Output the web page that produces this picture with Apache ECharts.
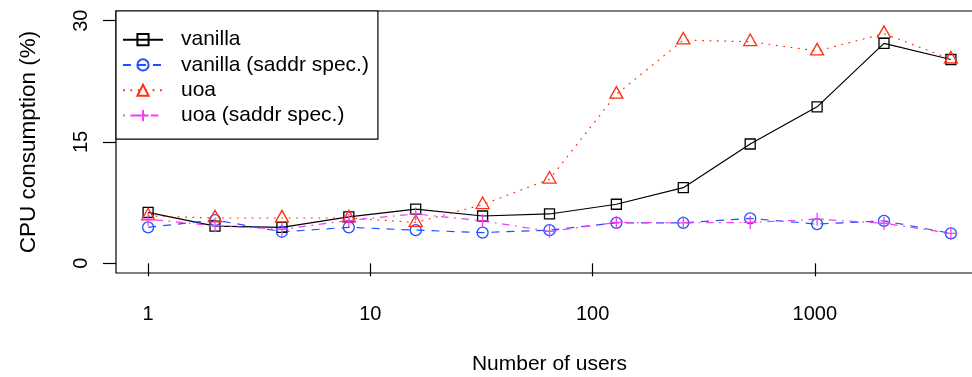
<!DOCTYPE html>
<html>
<head>
<meta charset="utf-8">
<title>CPU consumption vs number of users</title>
<script src="https://cdn.jsdelivr.net/npm/echarts@6.0.0/dist/echarts.min.js"></script>
<style>
  html, body { margin: 0; padding: 0; background: #fff; }
  #chart { width: 972px; height: 377px; }
</style>
</head>
<body>
<div id="chart"></div>
<script>
// Number of concurrent users (powers of two)
const users = [1, 2, 4, 8, 16, 32, 64, 128, 256, 512, 1024, 2048, 4096];

// CPU consumption (%) per configuration
const vanilla      = [6.3, 4.6, 4.45, 5.75, 6.7, 5.85, 6.1, 7.3, 9.35, 14.75, 19.35, 27.2, 25.2];
const vanillaSaddr = [4.45, 5.35, 3.9, 4.45, 4.1, 3.8, 4.1, 5.0, 5.0, 5.55, 4.85, 5.25, 3.7];
const uoa          = [5.85, 5.6, 5.6, 5.6, 5.05, 7.25, 10.4, 20.9, 27.6, 27.4, 26.25, 28.4, 25.25];
const uoaSaddr     = [5.45, 4.65, 4.2, 5.3, 6.1, 5.25, 3.95, 5.05, 5.0, 5.05, 5.45, 4.95, 3.7];

const seriesNames = ['vanilla', 'vanilla (saddr spec.)', 'uoa', 'uoa (saddr spec.)'];

// Axis tick positions
const xTicks = [1, 10, 100, 1000];
const yTicks = [0, 15, 30];
const yLimits = [0, 30];

const FONT = '"Liberation Sans", Arial, Helvetica, sans-serif';

// Axis ranges padded by 4% on each side, as in base R plots
const logLo = Math.log10(users[0]);
const logHi = Math.log10(users[users.length - 1]);
const logPad = 0.04 * (logHi - logLo);
const xMin = Math.pow(10, logLo - logPad);
const xMax = Math.pow(10, logHi + logPad);
const yPad = 0.04 * (yLimits[1] - yLimits[0]);

const pairs = vals => users.map((u, i) => [u, vals[i]]);

const chart = echarts.init(document.getElementById('chart'), null, { renderer: 'canvas' });

chart.setOption({
  animation: false,
  backgroundColor: '#fff',
  textStyle: { fontFamily: FONT },
  grid: {
    left: 116, top: 11, width: 867, height: 262,
    show: true, borderColor: '#000', borderWidth: 1.2,
    backgroundColor: 'transparent',
    containLabel: false,
    outerBoundsMode: 'none'
  },
  legend: {
    orient: 'vertical',
    left: 116, top: 11,
    data: seriesNames,
    itemWidth: 40, itemHeight: 14, itemGap: 0,
    padding: [16, 9, 11, 6],
    borderColor: '#000', borderWidth: 1.2,
    backgroundColor: '#fff',
    selectedMode: false,
    textStyle: {
      fontFamily: FONT, fontSize: 21, color: '#000',
      lineHeight: 25.3, padding: [0, 0, 0, 13]
    }
  },
  xAxis: {
    type: 'log',
    logBase: 10,
    min: xMin, max: xMax,
    name: 'Number of users',
    nameLocation: 'middle',
    nameGap: 81,
    nameTextStyle: { fontFamily: FONT, fontSize: 21, color: '#000' },
    axisLine: { show: false },
    splitLine: { show: false },
    axisTick: {
      show: true, length: 13, customValues: xTicks,
      lineStyle: { color: '#000', width: 1.2 }
    },
    axisLabel: {
      customValues: xTicks,
      margin: 31,
      fontFamily: FONT, fontSize: 20, color: '#000',
      formatter: v => String(Math.round(v))
    }
  },
  yAxis: {
    type: 'value',
    min: yLimits[0] - yPad, max: yLimits[1] + yPad,
    name: 'CPU consumption (%)',
    nameLocation: 'middle',
    nameGap: 76,
    nameTextStyle: { fontFamily: FONT, fontSize: 22.5, color: '#000' },
    axisLine: { show: false },
    splitLine: { show: false },
    axisTick: {
      show: true, length: 13, customValues: yTicks,
      lineStyle: { color: '#000', width: 1.2 }
    },
    axisLabel: {
      customValues: yTicks,
      rotate: 90,
      margin: 25,
      fontFamily: FONT, fontSize: 20, color: '#000',
      formatter: v => String(Math.round(v))
    }
  },
  series: [
    {
      name: seriesNames[0],
      type: 'line',
      data: pairs(vanilla),
      symbol: 'rect',
      symbolSize: 10,
      lineStyle: { color: '#000', width: 1.2, type: 'solid' },
      itemStyle: { color: 'rgba(0,0,0,0)', borderColor: '#000', borderWidth: 1.3 }
    },
    {
      name: seriesNames[1],
      type: 'line',
      data: pairs(vanillaSaddr),
      symbol: 'circle',
      symbolSize: 11,
      lineStyle: { color: '#2050ff', width: 1.2, type: [8, 7] },
      itemStyle: { color: 'rgba(0,0,0,0)', borderColor: '#2050ff', borderWidth: 1.3 }
    },
    {
      name: seriesNames[2],
      type: 'line',
      data: pairs(uoa),
      symbol: 'triangle',
      symbolSize: [13, 11.5],
      symbolOffset: [0, -1.9],
      lineStyle: { color: '#ff3010', width: 1.2, type: [1.8, 5.6] },
      itemStyle: { color: 'rgba(0,0,0,0)', borderColor: '#ff3010', borderWidth: 1.3 }
    },
    {
      name: seriesNames[3],
      type: 'line',
      data: pairs(uoaSaddr),
      symbol: 'path://M5,0L5,10M0,5L10,5',
      symbolSize: 13,
      lineStyle: { color: '#f040f0', width: 1.2, type: [1.8, 5.6, 7.5, 5.6] },
      itemStyle: { color: 'rgba(0,0,0,0)', borderColor: '#f040f0', borderWidth: 1.3 }
    }
  ]
});
</script>
</body>
</html>
